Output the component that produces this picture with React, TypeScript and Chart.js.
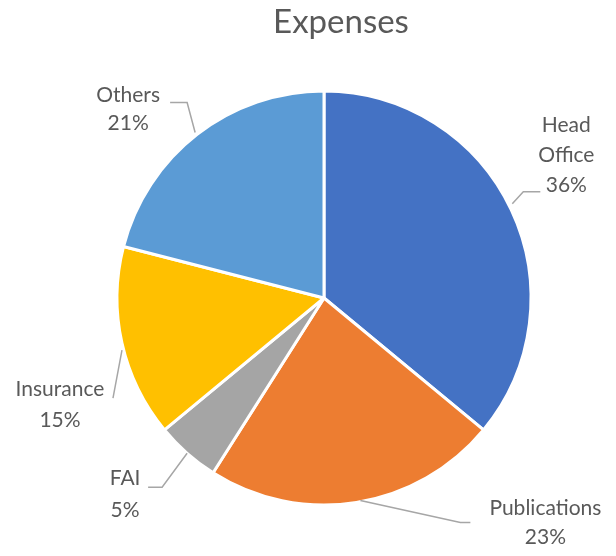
import React, { useEffect, useRef } from "react";
import { Chart, registerables } from "chart.js";

Chart.register(...registerables);

const titleText = "Expenses";
const categories = ["Head Office", "Publications", "FAI", "Insurance", "Others"];
const labelLines = [["Head", "Office"], ["Publications"], ["FAI"], ["Insurance"], ["Others"]];
const percentages = [36, 23, 5, 15, 21];
const colors = ["#4472C4", "#ED7D31", "#A5A5A5", "#FFC000", "#5B9BD5"];

// Label layout: offsets relative to the slice's outer edge point at its mid-angle
type LabelLayout = {
  start: [number, number];
  path: [number, number][];
  text: [number, number];
  lh: number;
};
const labelLayout: LabelLayout[] = [
  { start: [1, -6], path: [[12, -18], [29, -18]], text: [55, -85], lh: 30 },
  { start: [4, -2], path: [[104, 20], [114, 20]], text: [189, 6], lh: 29 },
  { start: [0, 0], path: [[-25, 34], [-39, 34]], text: [-62, 25], lh: 32 },
  { start: [0, 7], path: [[-9, 55]], text: [-62, 46], lh: 31 },
  { start: [-2, -2], path: [[-10, -32], [-27, -32]], text: [-69, -39], lh: 28 },
];

const labelPlugin = {
  id: "pieLabels",
  afterDraw(chart: any) {
    const ctx = chart.ctx;
    const meta = chart.getDatasetMeta(0);
    ctx.save();
    // title
    ctx.fillStyle = "#595959";
    ctx.font = "33px Lato";
    ctx.textAlign = "center";
    ctx.textBaseline = "middle";
    ctx.fillText(titleText, 341, 22);

    meta.data.forEach((arc: any, i: number) => {
      const { x, y, startAngle, endAngle, outerRadius } = arc.getProps(
        ["x", "y", "startAngle", "endAngle", "outerRadius"],
        true
      );
      const mid = (startAngle + endAngle) / 2;
      const ex = x + Math.cos(mid) * outerRadius;
      const ey = y + Math.sin(mid) * outerRadius;
      const lay = labelLayout[i];
      ctx.strokeStyle = "#A6A6A6";
      ctx.lineWidth = 1.5;
      ctx.beginPath();
      ctx.moveTo(ex + lay.start[0], ey + lay.start[1]);
      lay.path.forEach((p) => ctx.lineTo(ex + p[0], ey + p[1]));
      ctx.stroke();

      ctx.fillStyle = "#595959";
      ctx.font = "21px Lato";
      ctx.textAlign = "center";
      ctx.textBaseline = "middle";
      const lines = [...labelLines[i], percentages[i] + "%"];
      lines.forEach((t, k) => {
        ctx.fillText(t, ex + lay.text[0], ey + lay.text[1] + k * lay.lh);
      });
    });
    ctx.restore();
  },
};

export default function App() {
  const ref = useRef<HTMLCanvasElement>(null);
  useEffect(() => {
    if (!ref.current) return;
    const chart = new Chart(ref.current, {
      type: "pie",
      data: {
        labels: categories,
        datasets: [
          {
            data: percentages,
            backgroundColor: colors,
            borderColor: "#FFFFFF",
            borderWidth: 3,
          },
        ],
      },
      options: {
        responsive: false,
        animation: false,
        layout: {
          padding: { left: 115.5, right: 83.5, top: 89.5, bottom: 49.5 },
        },
        plugins: {
          legend: { display: false },
          tooltip: { enabled: false },
          title: { display: false },
        },
      },
      plugins: [labelPlugin],
    });
    return () => chart.destroy();
  }, []);
  return (
    <div style={{ position: "absolute", left: 0, top: 0, width: 616, height: 556, background: "#fff" }}>
      <canvas ref={ref} width={616} height={556} style={{ display: "block" }} />
    </div>
  );
}
